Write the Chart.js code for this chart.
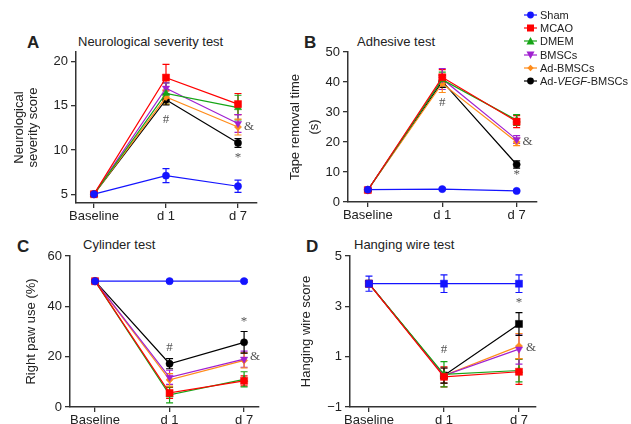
<!DOCTYPE html>
<html>
<head>
<meta charset="utf-8">
<script src="https://cdn.jsdelivr.net/npm/chart.js@4/dist/chart.umd.min.js"></script>
<style>
  body { margin: 0; background: #fff; width: 631px; height: 424px; overflow: hidden; position: relative;
         font-family: "Liberation Sans", Arial, sans-serif; color: #222; }
  canvas { position: absolute; }
  .letter { position: absolute; font-weight: bold; font-size: 17px; line-height: 17px; }
  .title { position: absolute; font-size: 13px; line-height: 13px; }
  #legend { position: absolute; left: 524px; top: 9px; font-size: 11px; }
  #legend div { height: 13.2px; line-height: 13.2px; white-space: nowrap; }
  #legend svg { vertical-align: middle; margin-right: 3px; position: relative; top: -1px; }
</style>
</head>
<body>
<div class="letter" style="left:27px;top:34px">A</div>
<div class="title" style="left:78px;top:35px">Neurological severity test</div>
<div class="letter" style="left:304px;top:34px">B</div>
<div class="title" style="left:357px;top:35px">Adhesive test</div>
<div class="letter" style="left:17px;top:238px">C</div>
<div class="title" style="left:83px;top:238px">Cylinder test</div>
<div class="letter" style="left:306px;top:238px">D</div>
<div class="title" style="left:354px;top:238px">Hanging wire test</div>

<canvas id="cA" width="265" height="185" style="left:0;top:40px"></canvas>
<canvas id="cB" width="262" height="184" style="left:280px;top:40px"></canvas>
<canvas id="cC" width="265" height="185" style="left:0;top:244px"></canvas>
<canvas id="cD" width="262" height="185" style="left:280px;top:244px"></canvas>

<div id="legend"></div>

<script>
// groups and time points
const groups = ['Sham', 'MCAO', 'DMEM', 'BMSCs', 'Ad-BMSCs', 'Ad-VEGF-BMSCs'];
const timeLabels = ['Baseline', 'd 1', 'd 7'];
const colors = ['#1414ff', '#ff0000', '#16a516', '#a020d0', '#ff8c1a', '#000000'];

// A: neurological severity score (mean, sem)
const neuroMean = [
  [5.0, 7.1, 5.9],
  [5.0, 18.2, 15.2],
  [5.0, 16.4, 14.8],
  [5.0, 17.0, 13.0],
  [5.0, 16.0, 12.6],
  [5.0, 15.7, 10.8]
];
const neuroErr = [
  [0.2, 0.8, 0.7],
  [0.2, 1.5, 1.2],
  [0.2, 1.2, 1.4],
  [0.2, 0.6, 1.0],
  [0.2, 0.8, 0.9],
  [0.2, 0.6, 0.5]
];

// B: tape removal time (s)
const tapeMean = [
  [4.1, 4.3, 3.7],
  [4.0, 41.6, 26.8],
  [4.0, 40.8, 27.3],
  [4.0, 41.0, 20.8],
  [4.0, 39.5, 20.0],
  [4.0, 40.2, 12.5]
];
const tapeErr = [
  [0.3, 0.3, 0.3],
  [0.4, 2.5, 2.0],
  [0.4, 2.5, 1.8],
  [0.4, 3.5, 1.3],
  [0.4, 3.0, 1.2],
  [0.4, 2.0, 1.2]
];

// C: right paw use (%)
const pawMean = [
  [50, 50, 50],
  [50, 5.6, 10.4],
  [50, 4.8, 11.0],
  [50, 11.8, 19.0],
  [50, 10.8, 18.5],
  [50, 17.2, 25.7]
];
const pawErr = [
  [0.5, 0.5, 0.5],
  [0.5, 2.2, 2.0],
  [0.5, 3.2, 3.0],
  [0.5, 2.8, 3.2],
  [0.5, 2.5, 3.0],
  [0.5, 2.0, 4.3]
];

// D: hanging wire score
const wireMean = [
  [3.9, 3.9, 3.9],
  [3.9, 0.2, 0.4],
  [3.9, 0.3, 0.45],
  [3.9, 0.25, 1.3],
  [3.9, 0.25, 1.42],
  [3.9, 0.25, 2.3]
];
const wireErr = [
  [0.3, 0.35, 0.35],
  [0.1, 0.4, 0.5],
  [0.1, 0.5, 0.45],
  [0.1, 0.3, 0.6],
  [0.1, 0.3, 0.5],
  [0.1, 0.3, 0.45]
];

const stylesABC = ['circle', 'rect', 'triangle', 'triangle', 'rectRot', 'circle'];
const stylesD = ['rect', 'rect', 'triangle', 'triangle', 'rectRot', 'rect'];
const radii = { circle: 3.6, rect: 5, triangle: 4.2, rectRot: 3.6 };

// error bars drawn under the markers
const errorBars = {
  id: 'errorBars',
  beforeDatasetsDraw(chart) {
    const { ctx, scales: { x, y } } = chart;
    chart.data.datasets.forEach((ds) => {
      ctx.save();
      ctx.strokeStyle = ds.borderColor;
      ctx.lineWidth = 1.2;
      ds.data.forEach((p, j) => {
        const e = ds.errors[j];
        if (!e) return;
        const px = x.getPixelForValue(p.x);
        const top = y.getPixelForValue(p.y + e);
        const bot = y.getPixelForValue(p.y - e);
        ctx.beginPath();
        ctx.moveTo(px, top); ctx.lineTo(px, bot);
        ctx.moveTo(px - 3.5, top); ctx.lineTo(px + 3.5, top);
        ctx.moveTo(px - 3.5, bot); ctx.lineTo(px + 3.5, bot);
        ctx.stroke();
      });
      ctx.restore();
    });
  }
};

// significance marks (#, *, &)
const sigMarks = {
  id: 'sigMarks',
  afterDatasetsDraw(chart, args, opts) {
    const { ctx, scales: { x, y } } = chart;
    ctx.save();
    ctx.fillStyle = '#555';
    ctx.font = '13px "Liberation Serif", serif';
    ctx.textAlign = 'center';
    ctx.textBaseline = 'middle';
    (opts.marks || []).forEach((m) => {
      ctx.fillText(m.t, x.getPixelForValue(m.x) + (m.dx || 0), y.getPixelForValue(m.y));
    });
    ctx.restore();
  }
};

function panel(id, o) {
  const styles = o.styles;
  new Chart(document.getElementById(id), {
    type: 'line',
    data: {
      datasets: o.mean.map((vals, i) => ({
        label: groups[i],
        data: vals.map((v, k) => ({ x: k, y: v })),
        errors: o.err[i],
        borderColor: colors[i],
        backgroundColor: colors[i],
        borderWidth: 1.2,
        pointStyle: styles[i],
        pointRotation: i === 3 ? 180 : 0,
        pointRadius: radii[styles[i]],
        pointBorderWidth: 0.5,
        tension: 0
      }))
    },
    options: {
      responsive: false,
      animation: false,
      layout: { padding: { top: 12, right: o.padRight, left: 0, bottom: 0 } },
      plugins: {
        legend: { display: false },
        tooltip: { enabled: false },
        sigMarks: { marks: o.marks }
      },
      scales: {
        x: {
          type: 'linear',
          min: o.xMin, max: o.xMax,
          afterBuildTicks: (s) => { s.ticks = [0, 1, 2].map((v) => ({ value: v })); },
          afterFit: (s) => { s.height = 22; },
          ticks: {
            callback: (v) => timeLabels[v],
            color: '#222', font: { size: 13, family: '"Liberation Sans", Arial' },
            padding: 1, maxRotation: 0
          },
          grid: { drawOnChartArea: false, tickLength: 5, color: '#333', lineWidth: 1.3 },
          border: { color: '#333', width: 1.5 }
        },
        y: {
          min: o.yMin, max: o.yMax,
          afterBuildTicks: (s) => { s.ticks = o.yTicks.map((v) => ({ value: v })); },
          afterFit: (s) => { s.width = o.yw; },
          ticks: {
            color: '#222', font: { size: 13, family: '"Liberation Sans", Arial' },
            padding: 3,
            callback: (v) => (v < 0 ? '\u2212' + Math.abs(v) : String(v))
          },
          grid: { drawOnChartArea: false, tickLength: 5, color: '#333', lineWidth: 1.3 },
          border: { color: '#333', width: 1.5 },
          title: {
            display: true,
            text: o.yTitle,
            color: '#222',
            font: { size: 13, family: '"Liberation Sans", Arial', lineHeight: o.titleLH || 1.2 },
            padding: { top: o.titlePad, bottom: 0 }
          }
        }
      }
    },
    plugins: [errorBars, sigMarks]
  });
}

panel('cA', {
  mean: neuroMean, err: neuroErr, styles: stylesABC,
  xMin: -0.25, xMax: 2.264, yMin: 4, yMax: 21.1, yTicks: [5, 10, 15, 20],
  yw: 76, padRight: 8,
  yTitle: ['Neurological', 'severity score'], titleLH: 1.1, titlePad: 12,
  marks: [{ x: 1, y: 13.5, t: '#' }, { x: 2, y: 12.7, t: '&', dx: 11 }, { x: 2, y: 9.2, t: '*' }]
});

panel('cB', {
  mean: tapeMean, err: tapeErr, styles: stylesABC,
  xMin: -0.267, xMax: 2.267, yMin: 0, yMax: 50, yTicks: [0, 10, 20, 30, 40, 50],
  yw: 68, padRight: 4,
  yTitle: ['Tape removal time', '(s)'], titleLH: 1.45, titlePad: 6,
  marks: [{ x: 1, y: 33, t: '#' }, { x: 2, y: 20, t: '&', dx: 11 }, { x: 2, y: 9, t: '*' }]
});

panel('cC', {
  mean: pawMean, err: pawErr, styles: stylesABC,
  xMin: -0.336, xMax: 2.2, yMin: 0, yMax: 60, yTicks: [0, 20, 40, 60],
  yw: 70, padRight: 6,
  yTitle: 'Right paw use (%)', titlePad: 24,
  marks: [{ x: 1, y: 23.8, t: '#' }, { x: 2, y: 33.8, t: '*' }, { x: 2, y: 19.9, t: '&', dx: 11 }]
});

panel('cD', {
  mean: wireMean, err: wireErr, styles: stylesD,
  xMin: -0.253, xMax: 2.227, yMin: -1, yMax: 5, yTicks: [-1, 1, 3, 5],
  yw: 70, padRight: 6,
  yTitle: 'Hanging wire score', titlePad: 19,
  marks: [{ x: 1, y: 1.27, t: '#' }, { x: 2, y: 3.15, t: '*' }, { x: 2, y: 1.35, t: '&', dx: 12 }]
});

// legend
const legendShapes = [
  (c) => `<circle cx="6.5" cy="5" r="3.4" fill="${c}"/>`,
  (c) => `<rect x="3" y="1.5" width="7" height="7" fill="${c}"/>`,
  (c) => `<polygon points="6.5,1 10.5,8.5 2.5,8.5" fill="${c}"/>`,
  (c) => `<polygon points="6.5,9 10.5,1.5 2.5,1.5" fill="${c}"/>`,
  (c) => `<polygon points="6.5,1.8 9.7,5 6.5,8.2 3.3,5" fill="${c}"/>`,
  (c) => `<circle cx="6.5" cy="5" r="3.4" fill="${c}"/>`
];
const legendNames = ['Sham', 'MCAO', 'DMEM', 'BMSCs', 'Ad-BMSCs', 'Ad-<i>VEGF</i>-BMSCs'];
document.getElementById('legend').innerHTML = legendNames.map((n, i) =>
  `<div><svg width="13" height="10"><line x1="0" y1="5" x2="13" y2="5" stroke="${colors[i]}" stroke-width="1.2"/>${legendShapes[i](colors[i])}</svg>${n}</div>`
).join('');
</script>
</body>
</html>
